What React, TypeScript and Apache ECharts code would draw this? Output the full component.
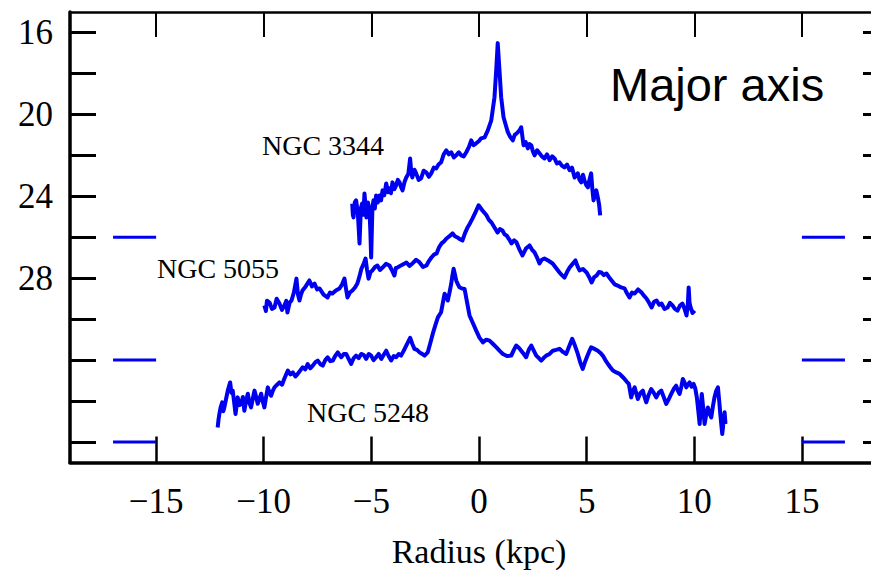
import React, { useEffect, useRef } from "react";
import * as echarts from "echarts";

// ---- Data (radius in kpc, surface brightness in mag/arcsec^2) ----
const ngc3344R = [
  -5.89, -5.86, -5.83, -5.77, -5.71, -5.63, -5.55, -5.49, -5.43, -5.37, -5.32, -5.27, -5.23, -5.16, -5.09,
  -5.05, -5.01, -4.95, -4.9, -4.84, -4.78, -4.7, -4.63, -4.55, -4.48, -4.4, -4.31, -4.23, -4.16, -4.09,
  -4.02, -3.93, -3.85, -3.77, -3.69, -3.62, -3.55, -3.46, -3.38, -3.28, -3.2, -3.15, -3.1, -3.0, -2.92,
  -2.8, -2.69, -2.57, -2.45, -2.33, -2.22, -2.1, -1.99, -1.88, -1.76, -1.64, -1.52, -1.4, -1.29, -1.17,
  -1.06, -0.94, -0.83, -0.71, -0.59, -0.47, -0.36, -0.25, -0.13, 0.0, 0.1, 0.26, 0.41, 0.57, 0.72,
  0.8, 0.87, 0.95, 1.03, 1.14, 1.34, 1.45, 1.57, 1.66, 1.76, 1.88, 1.96, 2.07, 2.17, 2.27,
  2.35, 2.43, 2.5, 2.58, 2.7, 2.81, 2.92, 3.04, 3.16, 3.28, 3.4, 3.51, 3.62, 3.74, 3.85,
  3.97, 4.09, 4.21, 4.32, 4.44, 4.59, 4.67, 4.75, 4.83, 4.9, 4.98, 5.06, 5.13, 5.21, 5.27,
  5.32, 5.39, 5.45, 5.52, 5.58, 5.63,
];
const ngc3344Mu = [
  24.36, 24.9, 25.03, 24.3, 24.2, 24.8, 26.3, 24.6, 24.35, 24.9, 23.86, 24.5, 25.03, 24.3, 24.69,
  25.6, 26.99, 24.5, 24.2, 24.6, 23.96, 24.3, 23.96, 24.2, 23.71, 23.95, 23.37, 23.8, 23.61, 23.85,
  23.32, 23.65, 23.47, 23.2, 23.32, 23.55, 23.71, 23.3, 23.08, 22.9, 22.15, 22.8, 23.08, 22.7, 22.88,
  23.2, 23.12, 22.75, 22.83, 23.05, 22.88, 22.6, 22.64, 22.45, 22.34, 21.95, 21.76, 21.95, 21.85, 22.1,
  22.0, 21.85, 22.0, 22.05, 21.85, 21.6, 21.27, 21.5, 21.41, 21.3, 21.17, 21.12, 20.78, 20.29, 19.16,
  17.84, 16.52, 17.84, 19.16, 20.14, 20.87, 21.1, 21.27, 21.0, 20.92, 20.78, 20.63, 21.51, 21.35, 21.66,
  21.45, 21.51, 21.8, 22.0, 21.75, 21.9, 22.05, 22.15, 21.95, 22.24, 22.05, 22.15, 22.4, 22.34, 22.5,
  22.59, 22.45, 22.73, 22.6, 23.08, 22.88, 23.2, 23.32, 22.95, 23.22, 23.45, 23.56, 23.2, 22.88, 23.7,
  24.2, 23.9, 23.71, 24.05, 24.4, 24.93,
];

const ngc5055R = [
  -9.97, -9.9, -9.85, -9.73, -9.62, -9.5, -9.4, -9.27, -9.15, -9.04, -8.95, -8.9, -8.8, -8.71, -8.6,
  -8.48, -8.41, -8.34, -8.27, -8.2, -8.05, -7.88, -7.76, -7.64, -7.52, -7.41, -7.22, -7.04, -6.92, -6.81,
  -6.65, -6.48, -6.36, -6.25, -6.18, -6.11, -6.0, -5.88, -5.76, -5.65, -5.55, -5.46, -5.36, -5.27, -5.2,
  -5.13, -5.04, -4.95, -4.83, -4.72, -4.6, -4.48, -4.32, -4.16, -4.05, -3.93, -3.86, -3.79, -3.58, -3.37,
  -3.23, -3.09, -2.92, -2.76, -2.6, -2.44, -2.32, -2.21, -2.09, -1.97, -1.86, -1.74, -1.62, -1.51, -1.37,
  -1.23, -1.12, -1.0, -0.88, -0.77, -0.65, -0.53, -0.41, -0.3, -0.15, -0.02, 0.16, 0.35, 0.46, 0.58,
  0.72, 0.86, 0.97, 1.09, 1.18, 1.28, 1.4, 1.51, 1.63, 1.74, 1.88, 2.02, 2.18, 2.35, 2.46,
  2.58, 2.7, 2.81, 2.92, 3.04, 3.23, 3.42, 3.58, 3.74, 3.85, 3.97, 4.09, 4.21, 4.35, 4.48,
  4.57, 4.67, 4.83, 5.0, 5.12, 5.23, 5.35, 5.46, 5.57, 5.69, 5.8, 5.92, 6.04, 6.16, 6.3,
  6.44, 6.6, 6.76, 6.88, 6.99, 7.11, 7.23, 7.39, 7.55, 7.66, 7.78, 7.9, 8.02, 8.13, 8.25,
  8.37, 8.48, 8.62, 8.76, 8.87, 8.99, 9.1, 9.22, 9.33, 9.45, 9.55, 9.64, 9.7, 9.74, 9.78,
  9.83, 9.92, 10.02,
];
const ngc5055Mu = [
  29.33, 29.6, 29.1, 29.19, 29.5, 29.43, 29.0, 29.24, 29.55, 29.33, 29.1, 29.68, 29.2, 29.09, 28.7,
  28.02, 28.8, 29.09, 28.8, 28.6, 28.4, 28.11, 28.4, 28.26, 28.55, 28.5, 28.8, 28.94, 28.7, 28.75,
  28.6, 28.5, 28.3, 28.02, 28.5, 28.94, 28.7, 28.6, 28.45, 28.26, 27.9, 27.53, 27.3, 27.04, 27.6,
  28.02, 27.7, 27.62, 27.45, 27.38, 27.6, 27.48, 27.3, 27.38, 27.6, 27.87, 27.5, 27.48, 27.35, 27.23,
  27.4, 27.28, 27.1, 27.23, 27.45, 27.38, 27.15, 26.99, 26.85, 26.79, 26.5, 26.3, 26.2, 26.06, 25.95,
  25.81, 25.95, 26.01, 26.1, 26.16, 25.8, 25.52, 25.3, 25.08, 24.75, 24.44, 24.69, 24.93, 25.15, 25.28,
  25.52, 25.77, 25.6, 25.67, 25.85, 25.91, 26.1, 26.3, 26.15, 26.25, 26.6, 26.89, 26.55, 26.4, 26.6,
  26.74, 27.0, 27.28, 27.1, 27.04, 27.15, 27.28, 27.5, 27.72, 27.85, 27.97, 27.7, 27.48, 27.3, 27.13,
  27.4, 27.62, 27.55, 27.72, 27.95, 28.21, 27.95, 27.87, 27.7, 27.72, 27.85, 27.77, 27.95, 28.11, 28.3,
  28.36, 28.45, 28.5, 28.75, 28.94, 28.7, 28.75, 28.55, 28.7, 28.85, 28.99, 29.2, 29.43, 29.15, 29.09,
  29.3, 29.24, 29.5, 29.43, 29.2, 29.33, 29.5, 29.58, 29.35, 29.24, 29.5, 29.82, 29.3, 28.45, 29.2,
  29.43, 29.7, 29.58,
];

const ngc5248R = [
  -12.14, -12.1, -12.06, -12.0, -11.93, -11.88, -11.83, -11.75, -11.67, -11.62, -11.56, -11.5, -11.44, -11.37, -11.31,
  -11.26, -11.21, -11.13, -11.05, -10.97, -10.9, -10.82, -10.74, -10.66, -10.59, -10.51, -10.43, -10.35, -10.28, -10.2,
  -10.12, -10.05, -9.97, -9.89, -9.81, -9.73, -9.66, -9.58, -9.5, -9.38, -9.27, -9.15, -9.04, -8.96, -8.88,
  -8.76, -8.65, -8.53, -8.42, -8.3, -8.19, -8.07, -7.96, -7.84, -7.72, -7.6, -7.49, -7.37, -7.26, -7.14,
  -7.03, -6.91, -6.79, -6.68, -6.56, -6.48, -6.4, -6.28, -6.17, -6.05, -5.94, -5.82, -5.71, -5.59, -5.47,
  -5.35, -5.24, -5.12, -5.01, -4.9, -4.78, -4.66, -4.54, -4.43, -4.31, -4.2, -4.08, -3.96, -3.85, -3.73,
  -3.62, -3.5, -3.38, -3.2, -3.1, -3.0, -2.88, -2.76, -2.64, -2.53, -2.38, -2.27, -2.15, -2.03, -1.91,
  -1.76, -1.68, -1.6, -1.52, -1.45, -1.37, -1.29, -1.24, -1.18, -1.12, -1.06, -0.98, -0.91, -0.79, -0.67,
  -0.55, -0.44, -0.28, -0.13, 0.02, 0.18, 0.34, 0.49, 0.64, 0.8, 0.96, 1.11, 1.3, 1.5, 1.62,
  1.73, 1.85, 1.96, 2.08, 2.19, 2.31, 2.43, 2.55, 2.66, 2.78, 2.89, 3.0, 3.12, 3.28, 3.43,
  3.58, 3.74, 3.9, 4.05, 4.2, 4.33, 4.46, 4.59, 4.7, 4.82, 4.92, 5.01, 5.11, 5.21, 5.36,
  5.52, 5.64, 5.75, 5.87, 5.99, 6.1, 6.22, 6.38, 6.53, 6.65, 6.76, 6.86, 6.96, 7.07, 7.15,
  7.23, 7.3, 7.38, 7.5, 7.61, 7.69, 7.77, 7.88, 8.0, 8.12, 8.23, 8.35, 8.47, 8.58, 8.7,
  8.82, 8.93, 9.05, 9.16, 9.24, 9.32, 9.4, 9.47, 9.55, 9.63, 9.7, 9.78, 9.88, 9.97, 10.05,
  10.12, 10.19, 10.25, 10.3, 10.35, 10.42, 10.48, 10.55, 10.63, 10.71, 10.79, 10.86, 10.94, 11.02, 11.1,
  11.16, 11.21, 11.26, 11.3, 11.36, 11.41, 11.45,
];
const ngc5248Mu = [
  35.29, 34.9, 34.62, 34.3, 34.06, 34.5, 34.31, 33.9, 33.49, 33.3, 33.09, 33.6, 33.49, 34.1, 34.63,
  34.2, 33.82, 34.2, 34.13, 33.8, 34.47, 34.0, 33.64, 34.1, 34.31, 33.9, 33.49, 33.8, 34.13, 33.9,
  33.64, 34.0, 34.31, 33.8, 33.33, 33.6, 33.74, 33.5, 33.33, 33.2, 33.09, 33.2, 32.9, 32.7, 32.51,
  32.7, 32.6, 32.8, 32.67, 32.5, 32.35, 32.45, 32.19, 32.4, 32.27, 32.1, 32.02, 32.2, 32.27, 32.0,
  31.86, 32.05, 32.02, 31.8, 31.62, 31.75, 31.86, 31.7, 31.7, 31.95, 32.19, 31.9, 31.78, 31.9, 31.7,
  31.75, 31.94, 31.7, 31.78, 32.0, 31.86, 31.7, 31.94, 31.75, 31.54, 31.8, 32.02, 31.8, 31.86, 31.7,
  31.78, 31.55, 31.29, 30.91, 31.2, 31.45, 31.5, 31.62, 31.7, 31.78, 31.62, 31.2, 30.72, 30.3, 29.91,
  29.66, 29.2, 28.76, 28.9, 29.09, 28.7, 28.27, 27.9, 27.54, 27.8, 28.11, 28.3, 28.44, 28.5, 28.52,
  29.2, 29.82, 30.2, 30.56, 30.9, 31.13, 31.0, 31.05, 31.2, 31.37, 31.55, 31.7, 31.8, 31.78, 31.5,
  31.29, 31.4, 31.54, 31.7, 31.86, 31.5, 31.29, 31.55, 31.78, 31.9, 32.02, 31.9, 31.78, 31.7, 31.54,
  31.5, 31.45, 31.6, 31.7, 31.3, 30.96, 31.3, 31.7, 32.1, 32.43, 32.1, 31.86, 31.6, 31.37, 31.45,
  31.54, 31.65, 31.78, 32.0, 32.19, 32.35, 32.51, 32.6, 32.67, 32.8, 32.92, 33.05, 33.16, 33.82, 33.5,
  33.33, 33.6, 33.9, 33.6, 33.49, 33.8, 34.06, 33.7, 33.41, 33.6, 33.82, 33.6, 33.49, 33.8, 34.14,
  33.9, 33.65, 33.4, 33.25, 33.5, 33.65, 33.3, 32.92, 33.1, 33.33, 33.2, 33.09, 33.3, 33.16, 33.4,
  33.82, 34.5, 35.12, 34.3, 33.65, 34.4, 35.12, 34.7, 34.31, 34.6, 34.8, 34.3, 33.82, 33.5, 33.33,
  34.0, 34.63, 35.2, 35.61, 35.0, 34.55, 35.12,
];

// reference level markers at the plot edges
const markerLevels = [26, 32, 36];
const markerSpans = [
  [-17, -15],
  [15, 17],
];

// axis ticks / labels
const xTickValues = [-15, -10, -5, 0, 5, 10, 15];
const yTickValues = [16, 18, 20, 22, 24, 26, 28, 30, 32, 34, 36];
const yLabelValues = [16, 20, 24, 28];

const galaxyNames = ["NGC 3344", "NGC 5055", "NGC 5248"];
const xAxisTitle = "Radius (kpc)";
const panelTitle = "Major axis";

const BLUE = "#0000f0";
const SERIF = "'Liberation Serif', 'Times New Roman', serif";
const SANS = "'Liberation Sans', Arial, sans-serif";

const zip = (xs: number[], ys: number[]) => xs.map((x, i) => [x, ys[i]]);

export default function App() {
  const ref = useRef<HTMLDivElement>(null);

  useEffect(() => {
    if (!ref.current) return;
    const chart = echarts.init(ref.current, undefined, { renderer: "svg" });

    const curves = [
      zip(ngc3344R, ngc3344Mu),
      zip(ngc5055R, ngc5055Mu),
      zip(ngc5248R, ngc5248Mu),
    ];

    const curveSeries = curves.map((d, i) => ({
      name: galaxyNames[i],
      type: "line",
      data: d,
      showSymbol: false,
      symbol: "none",
      lineStyle: { color: BLUE, width: 4, join: "round" },
      itemStyle: { color: BLUE },
      z: 3,
    }));

    const markerSeries: any[] = [];
    markerLevels.forEach((lv) => {
      markerSpans.forEach((sp) => {
        markerSeries.push({
          type: "line",
          data: [
            [sp[0], lv],
            [sp[1], lv],
          ],
          showSymbol: false,
          symbol: "none",
          lineStyle: { color: BLUE, width: 3 },
          silent: true,
          z: 2,
        });
      });
    });

    const commonX = {
      type: "value",
      min: -19,
      max: 19,
      splitLine: { show: false },
    };
    const commonY = {
      type: "value",
      min: 15,
      max: 37,
      inverse: true,
      splitLine: { show: false },
    };

    chart.setOption({
      animation: false,
      backgroundColor: "#ffffff",
      grid: { left: 70, right: 9, top: 12, bottom: 116.5, containLabel: false },
      xAxis: [
        {
          ...commonX,
          position: "bottom",
          name: xAxisTitle,
          nameLocation: "middle",
          nameGap: 72,
          nameTextStyle: { fontFamily: SERIF, fontSize: 34, color: "#000", lineHeight: 34 },
          axisLine: { show: true, onZero: false, lineStyle: { color: "#000", width: 3.5 } },
          axisTick: {
            show: true,
            inside: true,
            length: 26,
            customValues: xTickValues,
            lineStyle: { color: "#000", width: 2.5 },
          },
          axisLabel: {
            show: true,
            customValues: xTickValues,
            margin: 21,
            fontFamily: SERIF,
            fontSize: 35,
            lineHeight: 35,
            color: "#000",
            formatter: (v: number) => String(v).replace("-", "\u2212"),
          },
        },
        {
          ...commonX,
          position: "top",
          axisLine: { show: true, onZero: false, lineStyle: { color: "#000", width: 2.5 } },
          axisTick: {
            show: true,
            inside: true,
            length: 25,
            customValues: xTickValues,
            lineStyle: { color: "#000", width: 2 },
          },
          axisLabel: { show: false },
        },
      ],
      yAxis: [
        {
          ...commonY,
          position: "left",
          axisLine: { show: true, onZero: false, lineStyle: { color: "#000", width: 3.5 } },
          axisTick: {
            show: true,
            inside: true,
            length: 26,
            customValues: yTickValues,
            lineStyle: { color: "#000", width: 3 },
          },
          axisLabel: {
            show: true,
            customValues: yLabelValues,
            margin: 17,
            fontFamily: SERIF,
            fontSize: 35,
            color: "#000",
          },
        },
        {
          ...commonY,
          position: "right",
          axisLine: { show: true, onZero: false, lineStyle: { color: "#000", width: 3 } },
          axisTick: {
            show: true,
            inside: true,
            length: 25,
            customValues: yTickValues,
            lineStyle: { color: "#000", width: 3 },
          },
          axisLabel: { show: false },
        },
      ],
      graphic: [
        {
          type: "text",
          x: 610,
          y: 84,
          style: {
            text: panelTitle,
            fontFamily: SANS,
            fontSize: 47,
            fill: "#000",
            align: "left",
            verticalAlign: "middle",
          },
        },
        {
          type: "text",
          x: 262,
          y: 145,
          style: { text: galaxyNames[0], fontFamily: SERIF, fontSize: 28, fill: "#000", align: "left", verticalAlign: "middle" },
        },
        {
          type: "text",
          x: 157,
          y: 268,
          style: { text: galaxyNames[1], fontFamily: SERIF, fontSize: 28, fill: "#000", align: "left", verticalAlign: "middle" },
        },
        {
          type: "text",
          x: 307,
          y: 412,
          style: { text: galaxyNames[2], fontFamily: SERIF, fontSize: 28, fill: "#000", align: "left", verticalAlign: "middle" },
        },
      ],
      series: [...curveSeries, ...markerSeries],
    });

    return () => chart.dispose();
  }, []);

  return (
    <div style={{ width: 879, height: 579, margin: -8, overflow: "hidden", position: "relative" }}>
      <div ref={ref} style={{ width: 897, height: 579 }} />
    </div>
  );
}
